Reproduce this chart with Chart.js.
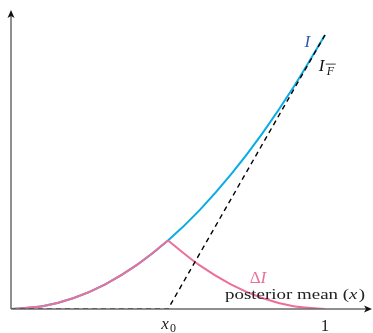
<!DOCTYPE html>
<html>
<head>
<meta charset="utf-8">
<script src="https://cdn.jsdelivr.net/npm/chart.js@4/dist/chart.umd.min.js"></script>
<style>
  html, body { margin: 0; padding: 0; background: #fff; }
  #wrap { width: 373px; height: 333px; }
</style>
</head>
<body>
<div id="wrap"><canvas id="chart"></canvas></div>
<script>
// values (x from 0 to 1, x0 = 0.5)
const xs = [0, 0.1, 0.2, 0.3, 0.4, 0.5, 0.6, 0.7, 0.8, 0.9, 1.0];
const infoI = [0, 0.01, 0.04, 0.09, 0.16, 0.25, 0.36, 0.49, 0.64, 0.81, 1.0];
const xsLow = [0, 0.1, 0.2, 0.3, 0.4, 0.5];
const infoLow = [0, 0.01, 0.04, 0.09, 0.16, 0.25];
const xsHigh = [0.5, 0.6, 0.7, 0.8, 0.9, 1.0];
const deltaI = [0.25, 0.16, 0.09, 0.04, 0.01, 0];
const hullX = [0, 0.5, 1.0];
const hullY = [0, 0, 1.0];
const tickValues = [0.5, 1];
const tickLabels = ['x₀', '1'];

const blue = '#0AACE6';
const pink = '#EC6F9B';

const pts = (xa, ya) => xa.map((x, i) => ({ x: x, y: ya[i] }));

const serif = '"Liberation Serif", "DejaVu Serif", serif';

const decorations = {
    id: 'decorations',
    afterDatasetsDraw(chart) {
        const { ctx, chartArea: a, scales: { x, y } } = chart;
        const ox = x.getPixelForValue(0), oy = y.getPixelForValue(0);
        ctx.save();
        // axes
        ctx.strokeStyle = '#6b6b6b';
        ctx.lineWidth = 1.5;
        ctx.beginPath();
        ctx.moveTo(ox, oy); ctx.lineTo(a.right - 4, oy);
        ctx.moveTo(ox, oy); ctx.lineTo(ox, a.top + 4);
        ctx.stroke();
        ctx.fillStyle = '#111';
        ctx.beginPath();
        ctx.moveTo(a.right, oy); ctx.lineTo(a.right - 8, oy - 3.5); ctx.lineTo(a.right - 6, oy); ctx.lineTo(a.right - 8, oy + 3.5);
        ctx.closePath(); ctx.fill();
        ctx.beginPath();
        ctx.moveTo(ox, a.top); ctx.lineTo(ox - 3.5, a.top + 8); ctx.lineTo(ox, a.top + 6); ctx.lineTo(ox + 3.5, a.top + 8);
        ctx.closePath(); ctx.fill();

        // tick labels
        ctx.fillStyle = '#222';
        ctx.textAlign = 'center';
        ctx.textBaseline = 'alphabetic';
        tickValues.forEach((v, i) => {
            const px = x.getPixelForValue(v);
            if (tickLabels[i] === '1') {
                ctx.font = '17px ' + serif;
                ctx.fillText('1', px, oy + 22);
            } else {
                ctx.font = 'italic 17px ' + serif;
                ctx.fillText('x', px - 3, oy + 20);
                ctx.font = '12px ' + serif;
                ctx.fillText('0', px + 5, oy + 23);
            }
        });

        // axis title, stretched to the reference width
        ctx.textAlign = 'left';
        const t1 = 'posterior mean (';
        ctx.font = '15px ' + serif;
        const w1 = ctx.measureText(t1).width;
        const w3 = ctx.measureText(')').width;
        ctx.font = 'italic 15px ' + serif;
        const w2 = ctx.measureText('x').width;
        const total = w1 + w2 + w3 + 1;
        const tx = a.right - 147, ty = oy - 10;
        ctx.save();
        ctx.translate(tx, ty);
        ctx.scale(140 / total, 1);
        ctx.font = '15px ' + serif;
        ctx.fillText(t1, 0, 0);
        ctx.font = 'italic 15px ' + serif;
        ctx.fillText('x', w1, 0);
        ctx.font = '15px ' + serif;
        ctx.fillText(')', w1 + w2 + 1, 0);
        ctx.restore();

        // curve labels
        ctx.font = 'italic 17px ' + serif;
        ctx.fillStyle = '#2A5DB0';
        ctx.fillText('I', x.getPixelForValue(0.935), y.getPixelForValue(0.955));
        ctx.fillStyle = '#111';
        const fx = x.getPixelForValue(0.98), fy = y.getPixelForValue(0.87);
        ctx.fillText('I', fx, fy);
        ctx.font = 'italic 12px ' + serif;
        ctx.fillText('F', fx + 8, fy + 4);
        ctx.strokeStyle = '#111';
        ctx.lineWidth = 0.8;
        ctx.beginPath();
        ctx.moveTo(fx + 7, fy - 6.5); ctx.lineTo(fx + 17, fy - 6.5);
        ctx.stroke();

        ctx.fillStyle = pink;
        const dx = x.getPixelForValue(0.76), dy = y.getPixelForValue(0.095);
        ctx.font = '17px ' + serif;
        ctx.fillText('Δ', dx, dy);
        const dw = ctx.measureText('Δ').width;
        ctx.font = 'italic 17px ' + serif;
        ctx.fillText('I', dx + dw, dy);
        ctx.restore();
    }
};

new Chart(document.getElementById('chart'), {
    type: 'line',
    data: {
        datasets: [
            {
                label: 'I',
                data: pts(xs, infoI),
                borderColor: blue,
                borderWidth: 2,
                pointRadius: 0,
                cubicInterpolationMode: 'monotone',
                order: 3,
            },
            {
                label: 'I (x < x0)',
                data: pts(xsLow, infoLow),
                borderColor: pink,
                borderWidth: 2,
                pointRadius: 0,
                cubicInterpolationMode: 'monotone',
                order: 2,
            },
            {
                label: 'ΔI',
                data: pts(xsHigh, deltaI),
                borderColor: pink,
                borderWidth: 2,
                pointRadius: 0,
                cubicInterpolationMode: 'monotone',
                order: 2,
            },
            {
                label: 'I_F',
                data: pts(hullX, hullY),
                borderColor: '#000',
                borderWidth: 1.4,
                borderDash: [5, 4],
                pointRadius: 0,
                tension: 0,
                order: 1,
            },
        ]
    },
    options: {
        responsive: true,
        maintainAspectRatio: false,
        animation: false,
        layout: { padding: { left: 11, right: 1, top: 10, bottom: 24 } },
        scales: {
            x: { type: 'linear', min: 0, max: 1.1497, display: false },
            y: { type: 'linear', min: 0, max: 1.0912, display: false },
        },
        plugins: {
            legend: { display: false },
            tooltip: { enabled: false },
        },
    },
    plugins: [decorations],
});
</script>
</body>
</html>
